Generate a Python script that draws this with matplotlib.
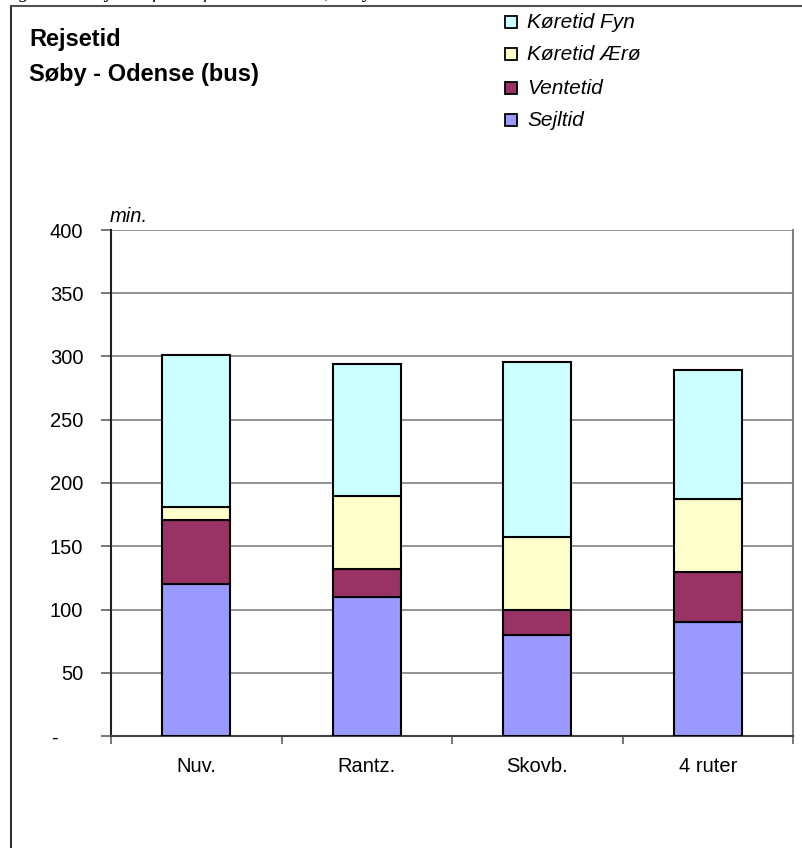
import matplotlib
matplotlib.use("Agg")
import matplotlib.pyplot as plt
from matplotlib.patches import Rectangle
from matplotlib.lines import Line2D
from matplotlib.transforms import ScaledTranslation
import numpy as np

plt.rcParams["font.family"] = ["Liberation Sans", "DejaVu Sans"]

categories = ["Nuv.", "Rantz.", "Skovb.", "4 ruter"]
sejltid = [120, 110, 80, 90]
ventetid = [51, 22, 20, 40]
koeretid_aeroe = [10, 58, 57, 57]
koeretid_fyn = [120, 104, 139, 102]

series = [
    ("Sejltid", sejltid, "#9999FF"),
    ("Ventetid", ventetid, "#993366"),
    ("Køretid Ærø", koeretid_aeroe, "#FFFFCC"),
    ("Køretid Fyn", koeretid_fyn, "#CCFFFF"),
]
yticks = [0, 50, 100, 150, 200, 250, 300, 350, 400]
ytick_labels = ["-", "50", "100", "150", "200", "250", "300", "350", "400"]

W, H = 802, 848
fig = plt.figure(figsize=(W / 100, H / 100), dpi=100)


def fx(px):
    return px / W


def fy(py):
    return 1 - py / H


# outer frame of the chart object (left and top edges visible)
fig.add_artist(Line2D([fx(11), fx(11)], [fy(6), 0], color="#303030", lw=1.5,
                      transform=fig.transFigure))
fig.add_artist(Line2D([fx(11), 1], [fy(6), fy(6)], color="#505050", lw=1.5,
                      transform=fig.transFigure))
# caption of the page, cut off at the very top (only descenders show)
fig.text(fx(2), fy(-1.5), "Figur 8.4  Rejsetid for de fire alternativer, Søby - Odense",
         fontsize=14, family="Liberation Serif", style="italic", va="baseline",
         ha="left")

ax = fig.add_axes([fx(111), fy(736), (793 - 111) / W, (736 - 230) / H])
x = np.arange(len(categories))
bottom = np.zeros(len(categories))
for name, vals, color in series:
    ax.bar(x, vals, width=0.4, bottom=bottom, color=color, edgecolor="black",
           linewidth=1.5, zorder=3, label=name)
    bottom += np.array(vals)

ax.set_xlim(-0.5, len(categories) - 0.5)
ax.set_ylim(0, 400)
ax.set_yticks(yticks)
ax.set_yticklabels(ytick_labels, fontsize=14.5)
ax.yaxis.grid(True, color="#808080", lw=1.2, zorder=0)
ax.set_xticks(x)
ax.set_xticklabels(categories, fontsize=14.5)
ax.tick_params(axis="x", length=0, pad=15)
ax.tick_params(axis="y", length=7, direction="out", width=1.2, color="#606060", pad=13)
# the zero label "-" sits further left, as in an accounting number format
zlab = ax.get_yticklabels()[0]
zlab.set_transform(zlab.get_transform() + ScaledTranslation(-0.25, 0, fig.dpi_scale_trans))
# category boundary ticks
ax.set_xticks(np.arange(-0.5, len(categories)), minor=True)
ax.tick_params(axis="x", which="minor", length=6, direction="out", width=1.2,
               color="#606060")
ax.spines["top"].set_visible(False)
ax.spines["right"].set_color("#808080")
ax.spines["right"].set_linewidth(1.5)
ax.spines["left"].set_color("#202020")
ax.spines["left"].set_linewidth(1.5)
ax.spines["bottom"].set_color("#404040")
ax.spines["bottom"].set_linewidth(1.5)

fig.text(fx(110), fy(222), "min.", fontsize=14.5, style="italic",
         va="baseline", ha="left")

fig.text(fx(29), fy(46), "Rejsetid", fontsize=17, weight="bold", va="baseline")
fig.text(fx(29), fy(81), "Søby - Odense (bus)", fontsize=17, weight="bold",
         va="baseline")

# legend, drawn by hand: top entry is the top segment
leg_centers = [22, 54, 88, 120]
for (name, _, color), yc in zip(series[::-1], leg_centers):
    fig.add_artist(Rectangle((fx(505), fy(yc + 6)), 12 / W, 12 / H,
                             facecolor=color, edgecolor="black", lw=1.3,
                             transform=fig.transFigure))
    fig.text(fx(527), fy(yc + 6), name, fontsize=15, style="italic",
             va="baseline", ha="left")

fig.savefig("out.png", dpi=100)
